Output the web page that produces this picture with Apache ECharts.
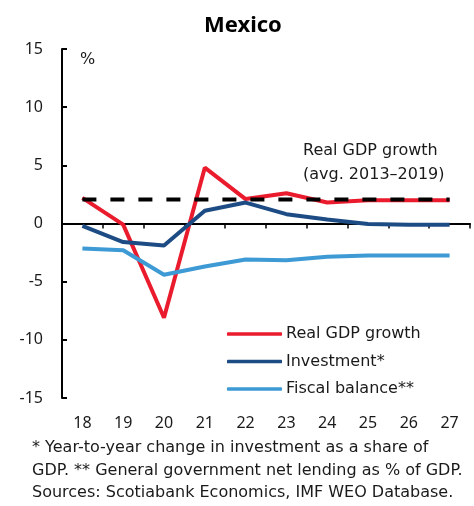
<!DOCTYPE html>
<html>
<head>
<meta charset="utf-8">
<script src="https://cdn.jsdelivr.net/npm/echarts@6/dist/echarts.min.js"></script>
<style>
  html, body { margin: 0; padding: 0; background: #fff; }
  #chart { width: 474px; height: 506px; }
</style>
</head>
<body>
<div id="chart"></div>
<script>
// Years (two-digit labels) and the series plotted for Mexico, in %
const years = ['18', '19', '20', '21', '22', '23', '24', '25', '26', '27'];
const realGdpGrowth = [2.2, -0.1, -8.1, 4.8, 2.1, 2.6, 1.8, 2.0, 2.0, 2.0];
const investment = [-0.2, -1.6, -1.9, 1.1, 1.8, 0.8, 0.35, -0.05, -0.1, -0.1];
const fiscalBalance = [-2.15, -2.3, -4.4, -3.7, -3.1, -3.15, -2.85, -2.75, -2.75, -2.75];
const gdpAverage2013to2019 = 2.06;
const avgLine = years.map(() => gdpAverage2013to2019);

const yTicks = { min: -15, max: 15, interval: 5 };

const AXIS_FONT = '"Noto Sans", "Open Sans", sans-serif';
const TEXT_FONT = '"DejaVu Sans", "Noto Sans", sans-serif';
const TEXT = '#1a1a1a';

const chart = echarts.init(document.getElementById('chart'), null, { renderer: 'canvas' });

chart.setOption({
  animation: false,
  backgroundColor: '#ffffff',
  textStyle: { fontFamily: AXIS_FONT },
  grid: { left: 62, right: 4, top: 49, bottom: 108, containLabel: false },
  legend: {
    orient: 'vertical',
    left: 222,
    top: 321,
    icon: 'roundRect',
    itemWidth: 55,
    itemHeight: 3.5,
    itemGap: 11.5,
    data: ['Real GDP growth', 'Investment*', 'Fiscal balance**'],
    textStyle: { fontFamily: TEXT_FONT, fontSize: 16, lineHeight: 16, color: TEXT, padding: [0, 0, 0, -1] }
  },
  xAxis: [
    {
      // zero line with boundary ticks
      type: 'category',
      data: years,
      position: 'top',
      boundaryGap: true,
      axisLine: { onZero: true, lineStyle: { color: '#000', width: 2 } },
      axisTick: { show: true, inside: true, length: 5, lineStyle: { color: '#000', width: 1.5 } },
      axisLabel: { show: false },
      splitLine: { show: false }
    },
    {
      // year labels along the bottom
      type: 'category',
      data: years,
      position: 'bottom',
      boundaryGap: true,
      axisLine: { show: false, onZero: false },
      axisTick: { show: false },
      axisLabel: { margin: 17, fontFamily: AXIS_FONT, fontSize: 16, color: TEXT },
      splitLine: { show: false }
    }
  ],
  yAxis: {
    type: 'value',
    min: yTicks.min,
    max: yTicks.max,
    interval: yTicks.interval,
    axisLine: { show: true, lineStyle: { color: '#000', width: 2 } },
    axisTick: { show: true, inside: true, length: 5, lineStyle: { color: '#000', width: 2 } },
    axisLabel: { margin: 19, fontFamily: AXIS_FONT, fontSize: 16, color: TEXT },
    splitLine: { show: false }
  },
  series: [
    {
      name: 'Real GDP growth',
      type: 'line',
      xAxisIndex: 0,
      data: realGdpGrowth,
      symbol: 'none',
      color: '#ea1b2d',
      lineStyle: { color: '#ea1b2d', width: 4 },
      z: 2
    },
    {
      name: 'Investment*',
      type: 'line',
      xAxisIndex: 0,
      data: investment,
      symbol: 'none',
      color: '#1d4c85',
      lineStyle: { color: '#1d4c85', width: 4 },
      z: 3
    },
    {
      name: 'Fiscal balance**',
      type: 'line',
      xAxisIndex: 0,
      data: fiscalBalance,
      symbol: 'none',
      color: '#3d9ad5',
      lineStyle: { color: '#3d9ad5', width: 4 },
      z: 4
    },
    {
      name: 'avg',
      type: 'line',
      xAxisIndex: 0,
      data: avgLine,
      symbol: 'none',
      lineStyle: { color: '#000', width: 4, type: [14, 14] },
      z: 5
    }
  ],
  graphic: [
    {
      type: 'text',
      left: 204,
      top: 15,
      style: { text: 'Mexico', font: 'bold 22px ' + AXIS_FONT, fill: '#000' }
    },
    {
      type: 'text',
      left: 80,
      top: 52,
      style: { text: '%', font: '16px ' + TEXT_FONT, fill: TEXT }
    },
    {
      type: 'text',
      left: 303,
      top: 139,
      style: {
        text: 'Real GDP growth\n(avg. 2013–2019)',
        font: '16px ' + TEXT_FONT,
        lineHeight: 24,
        fill: TEXT
      }
    },
    {
      type: 'text',
      left: 32,
      top: 437,
      style: {
        text: '* Year-to-year change in investment as a share of\nGDP. ** General government net lending as % of GDP.\nSources: Scotiabank Economics, IMF WEO Database.',
        font: '16px ' + TEXT_FONT,
        lineHeight: 22.5,
        fill: TEXT
      }
    }
  ]
});
</script>
</body>
</html>
